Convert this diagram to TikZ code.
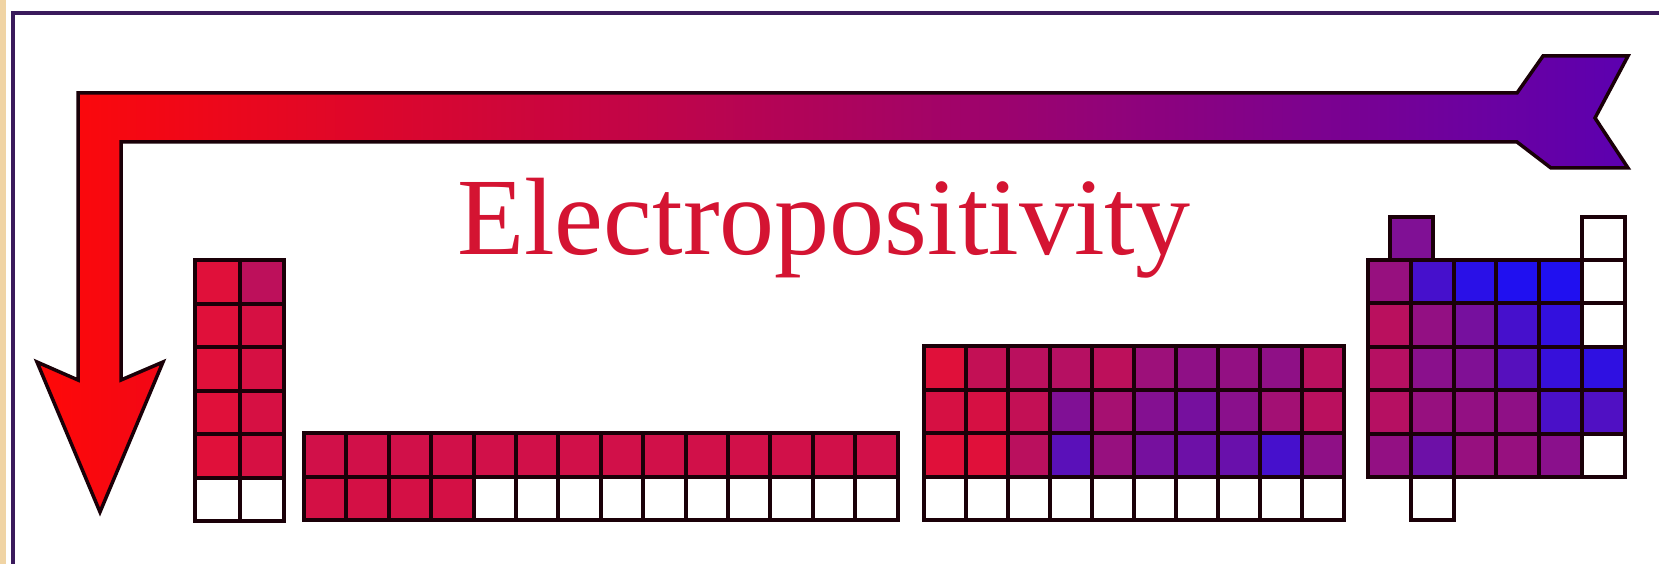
\documentclass[tikz,border=0pt]{standalone}
\usepackage{fontspec}
\setmainfont{Liberation Serif}
\usepackage{tikz}
\usetikzlibrary{positioning}
\usepackage{xcolor}
\definecolor{elRed}{HTML}{E0103A}
\definecolor{elBlue}{HTML}{2010F0}
\definecolor{arrowRed}{HTML}{FF0808}
\definecolor{arrowMid}{HTML}{BC0052}
\definecolor{arrowEnd}{HTML}{5C00B0}
\definecolor{frameLine}{HTML}{3A1A5C}
\definecolor{edgeTan}{HTML}{F0D4A4}
\definecolor{textRed}{HTML}{D41432}
\definecolor{gridLine}{HTML}{1A0008}

\tikzset{
    cell/.style={draw=gridLine, line width=4pt},
    bigarrow/.style={draw=gridLine, line width=3.5pt, line join=miter,
        left color=arrowRed, middle color=arrowMid, right color=arrowEnd},
}

\begin{document}
\begin{tikzpicture}[x=1pt, y=-1pt]
    \useasboundingbox (0,0) rectangle (1659,564);
    \fill[white] (0,0) rectangle (1659,564);

    % Frame
    \fill[edgeTan] (0,0) rectangle (6,564);
    \draw[frameLine, line width=3.5pt] (13,564) -- (13,13) -- (1659,13);

    % Arrow: from the notched tail at the top right, bent down to the head at the left
    \draw[bigarrow] (1543,56) -- (1628,56) -- (1595,118) -- (1628,168)
        -- (1551,168) -- (1517,142) -- (121,142) -- (121,380) -- (163,362)
        -- (100,512) -- (37,362) -- (78,380) -- (78,93) -- (1517,93) -- cycle;

    % Title
    \node[anchor=base west, inner sep=0pt, text=textRed,
          font=\fontsize{110}{110}\selectfont] (title) at (457,254) {Electropositivity};

    % s-block
    \foreach \a/\b [count=\r from 0] in {100/82,100/95,100/95,100/95,100/95} {
        \draw[cell, fill=elRed!\a!elBlue] (195,{260+43.5*\r}) rectangle ++(44.5,43.5);
        \draw[cell, fill=elRed!\b!elBlue] (239.5,{260+43.5*\r}) rectangle ++(44.5,43.5);
    }
    \draw[cell, fill=white] (195,477.5) rectangle ++(44.5,43.5);
    \draw[cell, fill=white] (239.5,477.5) rectangle ++(44.5,43.5);

    % f-block
    \foreach \c in {0,...,13}
        \draw[cell, fill=elRed!92!elBlue] ({304+42.4*\c},433) rectangle ++(42.4,43.5);
    \foreach \c in {0,...,3}
        \draw[cell, fill=elRed!94!elBlue] ({304+42.4*\c},476.5) rectangle ++(42.4,43.5);
    \foreach \c in {4,...,13}
        \draw[cell, fill=white] ({304+42.4*\c},476.5) rectangle ++(42.4,43.5);

    % d-block
    \foreach \vals [count=\r from 0] in {{100,85,80,78,82,65,58,60,58,80},
                                          {95,95,85,50,70,52,45,55,68,80},
                                          {100,100,80,30,62,45,40,38,20,58}}
        \foreach \p [count=\c from 0] in \vals
            \draw[cell, fill=elRed!\p!elBlue] ({924+42*\c},{346+43.5*\r}) rectangle ++(42,43.5);
    \foreach \c in {0,...,9}
        \draw[cell, fill=white] ({924+42*\c},476.5) rectangle ++(42,43.5);

    % p-block
    \foreach \vals [count=\r from 0] in {{62,20,5,0,0},
                                          {80,60,45,20,10},
                                          {78,55,50,28,12},
                                          {78,62,60,58,22},
                                          {60,40,62,62,55}}
        \foreach \p [count=\c from 0] in \vals
            \draw[cell, fill=elRed!\p!elBlue] ({1368+42.8*\c},{260+43.4*\r}) rectangle ++(42.8,43.4);
    \draw[cell, fill=white] (1582,260) rectangle ++(42.8,43.4);
    \draw[cell, fill=white] (1582,303.4) rectangle ++(42.8,43.4);
    \draw[cell, fill=elRed!8!elBlue] (1582,346.8) rectangle ++(42.8,43.4);
    \draw[cell, fill=elRed!25!elBlue] (1582,390.2) rectangle ++(42.8,43.4);
    \draw[cell, fill=white] (1582,433.6) rectangle ++(42.8,43.4);

    % Extra cells above and below the p-block
    \draw[cell, fill=elRed!50!elBlue] (1390,217) rectangle (1433,260);
    \draw[cell, fill=white] (1582,217) rectangle (1625,260);
    \draw[cell, fill=white] (1410.8,477) rectangle ++(42.8,43.4);
\end{tikzpicture}
\end{document}
